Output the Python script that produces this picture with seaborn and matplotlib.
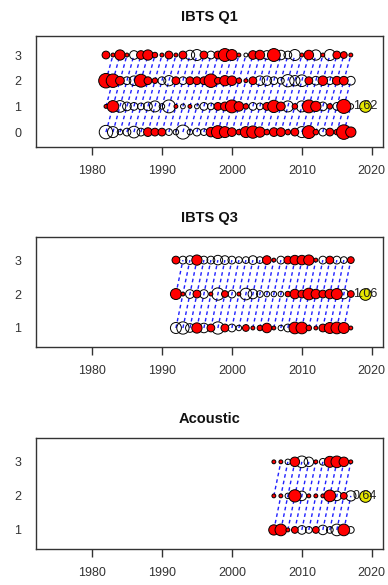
import matplotlib
matplotlib.use("Agg")
import matplotlib.pyplot as plt
import pandas as pd
import seaborn as sns

# ---------------- data (residuals) ----------------
q1_years = list(range(1982, 2018))
q1_age0 = [-1.2, -0.8, -0.2, -0.4, -0.9, -0.4, 0.5, 0.4, 0.4, -0.3, -0.2, -1.3,
           -0.2, -0.4, -0.3, 0.6, 1.1, 0.8, 0.5, 0.2, 0.8, 1.0, 0.7, 0.2,
           0.5, 0.5, 0.2, 0.4, -0.8, 1.1, 0.2, -0.4, 0.4, 0.2, 1.4, 0.7]
q1_age1 = [0.1, 0.9, -0.9, -0.5, -0.4, -0.3, -0.5, -0.8, -0.2, -1.1, 0.1, -0.15,
           0.1, -0.15, -0.4, -0.3, 0.4, 0.5, 1.1, 0.6, 0.2, -0.4, -0.3, 0.4,
           1.0, 0.5, -0.8, 0.2, -0.8, 1.1, 0.7, -0.5, 0.2, -0.4, 1.3, -0.2]
q1_age2 = [1.4, 1.2, 0.5, -0.4, -0.6, 1.1, 0.4, 0.2, -0.4, -0.7, 0.4, -0.4,
           0.4, 0.4, 0.4, 1.2, 0.3, 0.7, 0.6, 0.2, 0.1, 0.4, -0.6, -0.6,
           -0.4, -0.3, -1.0, -0.7, -0.9, 0.4, -0.5, 0.6, -0.4, 0.5, 0.5, -0.5]
q1_age3 = [0.4, 0.1, 0.7, 0.1, -0.5, 0.5, 0.7, 0.2, 0.1, 0.4, 0.1, 0.4,
           -0.6, -0.8, 0.4, -0.4, 0.4, 1.1, 0.8, 0.1, -0.1, 0.5, 0.6, -0.5,
           1.1, -0.6, -0.4, -0.8, 0.1, 0.6, -0.7, 0.1, -0.8, 0.4, 0.3, 0.1]
q1_ages = [0, 1, 2, 3]

q3_years = list(range(1992, 2018))
q3_age1 = [-0.8, -1.0, -0.5, 0.7, -0.6, 0.4, -1.0, 0.4, -0.4, -0.2, 0.3, 0.1, 0.2,
           0.6, 0.1, -0.2, -0.4, 0.9, 0.9, 0.2, 0.1, 0.4, 0.8, 0.9, 0.8, 0.1]
q3_age2 = [0.8, 0.1, -0.5, 0.4, -0.5, 0.1, -1.0, 0.3, -0.4, 0.1, -0.9, -0.6, -0.3,
           -0.2, -0.2, -0.2, 0.2, 0.6, 0.4, 0.9, 0.6, 0.4, 0.6, 0.8, -0.6, 0.3]
q3_age3 = [0.4, -0.4, -0.5, 0.7, -0.4, -0.4, -0.6, -0.5, -0.4, -0.3, -0.3, -0.5, -0.3,
           0.5, 0.1, -0.4, 0.4, 0.6, 0.6, 0.7, 0.1, -0.4, 0.4, -0.4, -0.3, 0.3]
q3_ages = [1, 2, 3]

ac_years = list(range(2006, 2018))
ac_age1 = [0.7, 0.9, 0.1, 0.3, -0.5, -0.3, 0.3, -0.6, -0.3, -0.9, 0.9, -0.3]
ac_age2 = [0.1, 0.1, -0.2, 1.0, -0.6, 0.1, 0.1, 0.1, 0.9, -0.6, 0.3, -0.7]
ac_age3 = [0.1, 0.1, -0.2, 0.6, -0.9, -0.6, 0.1, -0.3, 0.8, 0.9, 0.6, 0.1]
ac_ages = [1, 2, 3]

titles = ["IBTS Q1", "IBTS Q3", "Acoustic"]
ref_year = 2019
ref_ages = [1, 2, 2]
ref_labels = ["1.62", "1.06", "0.64"]
x_ticks = [1980, 1990, 2000, 2010, 2020]


def long_frame(years, ages, rows):
    recs = []
    for a, vals in zip(ages, rows):
        for y, v in zip(years, vals):
            recs.append((y, a, v))
    df = pd.DataFrame(recs, columns=["year", "age", "res"])
    df["cohort"] = df["year"] - df["age"]
    df["absres"] = df["res"].abs()
    return df


frames = [
    long_frame(q1_years, q1_ages, [q1_age0, q1_age1, q1_age2, q1_age3]),
    long_frame(q3_years, q3_ages, [q3_age1, q3_age2, q3_age3]),
    long_frame(ac_years, ac_ages, [ac_age1, ac_age2, ac_age3]),
]
age_sets = [q1_ages, q3_ages, ac_ages]

# ---------------- styling ----------------
sns.set_theme(style="ticks")
plt.rcParams["font.family"] = ["Liberation Sans", "DejaVu Sans"]

W, H = 388, 585
fig = plt.figure(figsize=(W / 100, H / 100), dpi=100)
fig.patch.set_facecolor("white")

# axes boxes in pixels: (left, top, right, bottom)
boxes = [(36, 36, 383, 147), (36, 237, 383, 347), (36, 438, 383, 549)]
ylims = [(-0.58, 3.74), (0.44, 3.68), (0.44, 3.70)]

BLUE = "#1f1fff"
GREY = "#333333"

for i, df in enumerate(frames):
    l, t, r, b = boxes[i]
    ax = fig.add_axes([l / W, 1 - b / H, (r - l) / W, (b - t) / H])

    sns.lineplot(data=df, x="year", y="age", units="cohort", estimator=None,
                 color=BLUE, lw=1.0, linestyle=(0, (2.6, 2.2)), ax=ax,
                 legend=False, zorder=1)

    pos = df[df["res"] > 0]
    neg = df[df["res"] <= 0]
    sns.scatterplot(data=neg, x="year", y="age", size="absres",
                    size_norm=(0, 1.6), sizes=(0, 125), color="none",
                    edgecolor="black", linewidth=0.7, ax=ax, legend=False,
                    zorder=3)
    sns.scatterplot(data=pos, x="year", y="age", size="absres",
                    size_norm=(0, 1.6), sizes=(0, 125), color="red",
                    edgecolor="black", linewidth=0.7, ax=ax, legend=False,
                    zorder=3)

    sns.scatterplot(x=[ref_year], y=[ref_ages[i]], s=70, color="#e6e600",
                    edgecolor="black", linewidth=0.7, ax=ax, legend=False,
                    zorder=4)
    ax.text(ref_year, ref_ages[i], ref_labels[i], ha="center", va="center",
            fontsize=9, color="#222222", zorder=5)

    ax.set_xlim(1972, 2021.6)
    ax.set_ylim(*ylims[i])
    ax.set_xticks(x_ticks)
    ax.set_yticks(age_sets[i])
    ax.set_xlabel("")
    ax.set_ylabel("")
    ax.tick_params(axis="x", length=6, width=1, color=GREY, pad=7,
                   labelsize=9, labelcolor=GREY, direction="out")
    ax.tick_params(axis="y", length=0, pad=10.5, labelsize=9,
                   labelcolor=GREY)
    for sp in ax.spines.values():
        sp.set_visible(True)
        sp.set_color(GREY)
        sp.set_linewidth(1.0)
    ax.set_facecolor("white")
    ax.set_title(titles[i], fontsize=10.5, fontweight="bold", pad=11,
                 color="#111111")

fig.savefig("out.png", dpi=100)
